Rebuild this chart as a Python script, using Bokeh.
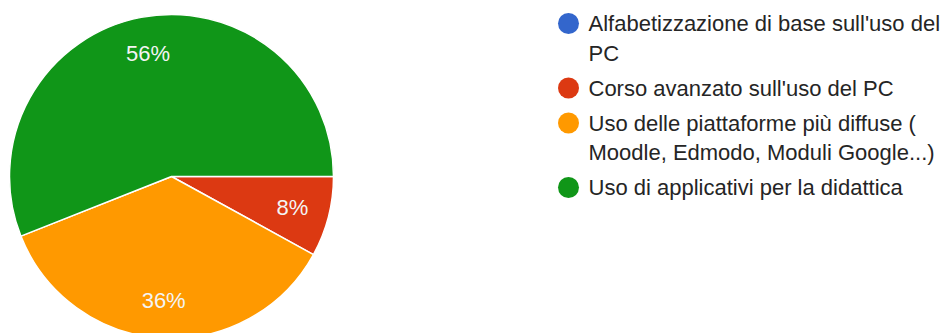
import numpy as np
from bokeh.plotting import figure
from bokeh.models import Range1d, ColumnDataSource
from bokeh.core.properties import value
from bokeh.embed import file_html
from bokeh.resources import INLINE

categories = [
    "Alfabetizzazione di base sull'uso del\nPC",
    "Corso avanzato sull'uso del PC",
    "Uso delle piattaforme più diffuse (\nMoodle, Edmodo, Moduli Google...)",
    "Uso di applicativi per la didattica",
]
percents = [0, 8, 36, 56]
colors = ["#3366cc", "#dc3912", "#ff9900", "#109618"]

W, H = 946, 333
p = figure(width=W, height=H, output_backend="svg", toolbar_location=None,
           x_range=Range1d(0, W), y_range=Range1d(0, H), min_border=0)
p.axis.visible = False
p.grid.visible = False
p.outline_line_color = None
p.background_fill_color = "white"
p.border_fill_color = "white"

cx, cy, R = 171, H - 176, 162
vals = np.array(percents, dtype=float)
frac = vals / vals.sum()
cum_after = np.cumsum(frac)
cum_before = cum_after - frac
start = -cum_after * 2 * np.pi
end = -cum_before * 2 * np.pi
mid = (start + end) / 2

mask = vals > 0
src = ColumnDataSource(dict(
    start=start[mask], end=end[mask], color=[c for c, m in zip(colors, mask) if m],
    lx=cx + 0.77 * R * np.cos(mid[mask]), ly=cy + 0.77 * R * np.sin(mid[mask]),
    lab=[f"{int(v)}%" for v in vals[mask]],
))
p.wedge(x=cx, y=cy, radius=R, start_angle="start", end_angle="end",
        fill_color="color", line_color="white", line_width=1.5, source=src)
p.text(x="lx", y="ly", text="lab", source=src, text_color="#f4f4f4",
       text_font=value("Liberation Sans"), text_font_size="22px",
       text_align="center", text_baseline="middle")

# legend
lx0, ty = 568, 23
line_h, gap = 29.5, 5.5
cxs, cys, tx, tys, tt = [], [], [], [], []
y = ty
for cat in categories:
    lines = cat.split("\n")
    cys.append(H - y)
    for ln in lines:
        tys.append(H - y)
        tt.append(ln)
        y += line_h
    y += gap
p.scatter(x=[lx0] * len(categories), y=cys, size=21, marker="circle",
          fill_color=colors, line_color=None)
p.text(x=[588] * len(tt), y=tys, text=tt, text_color="#252525",
       text_font=value("Liberation Sans"), text_font_size="22px",
       text_align="left", text_baseline="middle")

open("out.html", "w").write(file_html(p, INLINE))
